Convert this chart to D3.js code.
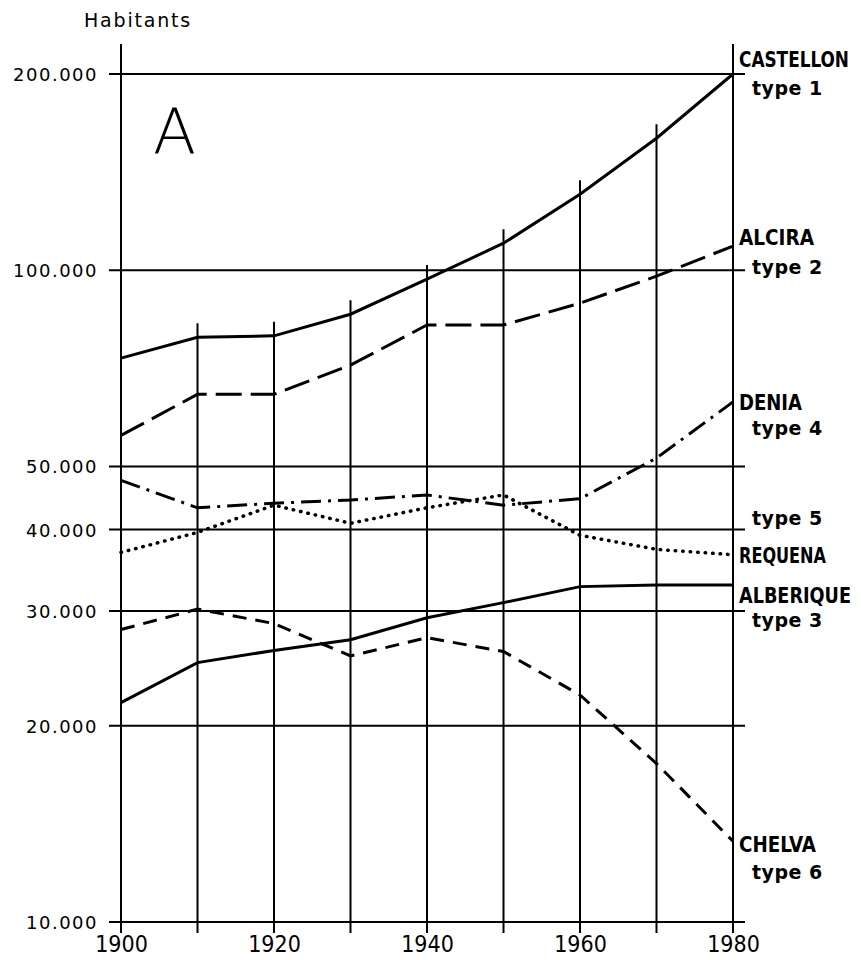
<!DOCTYPE html>
<html>
<head>
<meta charset="utf-8">
<script src="https://cdn.jsdelivr.net/npm/d3@7"></script>
<style>
  body { margin: 0; background: #fff; }
  svg { display: block; }
  .grid line { stroke: #000; stroke-width: 2; }
  .name { font-family: "DejaVu Sans", sans-serif; font-stretch: condensed; font-weight: bold; font-size: 21px; }
  .type { font-family: "DejaVu Sans", sans-serif; font-weight: bold; font-size: 19px; letter-spacing: 0.5px; }
</style>
</head>
<body>
<svg class="chart"></svg>
<script>
// census years and population per town (inhabitants)
var years = [1900, 1910, 1920, 1930, 1940, 1950, 1960, 1970, 1980];

var castellon = [73300, 78900, 79300, 85600, 96900, 110000, 130800, 159400, 200000];
var alcira    = [55800, 64500, 64500, 71500, 82400, 82400, 89000, 97900, 108900];
var denia     = [47600, 43200, 43900, 44400, 45200, 43600, 44600, 51500, 62800];
var requena   = [36900, 39600, 43600, 40900, 43200, 45200, 39200, 37300, 36600];
var alberique = [21700, 25000, 26100, 27100, 29300, 30900, 32700, 32900, 32900];
var chelva    = [28100, 30200, 28700, 25600, 27300, 26000, 22300, 17500, 13300];

var yTicks = [10000, 20000, 30000, 40000, 50000, 100000, 200000];
var xTicks = [1900, 1920, 1940, 1960, 1980];

var names = ["CASTELLON", "ALCIRA", "DENIA", "REQUENA", "ALBERIQUE", "CHELVA"];
var types = ["type 1", "type 2", "type 4", "type 5", "type 3", "type 6"];

var width = 861, height = 960;

var svg = d3.select(".chart")
    .attr("width", width)
    .attr("height", height);

var x = d3.scaleLinear()
    .domain([1900, 1980])
    .range([121, 733]);

var y = d3.scaleLog()
    .domain([10000, 200000])
    .range([922, 74]);

var fmt = d3.formatLocale({decimal: ",", thousands: ".", grouping: [3], currency: ["", ""]}).format(",");

// horizontal rules
var grid = svg.append("g").attr("class", "grid");
grid.selectAll(".h")
    .data(yTicks)
    .enter().append("line")
    .attr("class", "h")
    .attr("x1", x(1900) - 12)
    .attr("x2", x(1980) + 12)
    .attr("y1", function(d) { return y(d); })
    .attr("y2", function(d) { return y(d); });

// vertical rules, each stops a little above the top curve
grid.selectAll(".v")
    .data(years)
    .enter().append("line")
    .attr("class", "v")
    .attr("x1", function(d) { return x(d); })
    .attr("x2", function(d) { return x(d); })
    .attr("y1", function(d, i) {
      if (i === 0 || i === years.length - 1) return y(200000) - 30;
      return y(castellon[i]) - 14;
    })
    .attr("y2", y(10000) + 11);

// tick labels through d3 axes
var yAxis = svg.append("g")
    .attr("transform", "translate(" + (x(1900) - 23) + ",0)")
    .call(d3.axisLeft(y).tickValues(yTicks).tickFormat(fmt).tickSize(0).tickPadding(0))
    .attr("font-size", 18)
    .attr("font-family", "DejaVu Sans");
yAxis.select(".domain").remove();
yAxis.selectAll("text")
    .attr("fill", "#000")
    .attr("dy", "0.36em")
    .style("letter-spacing", "1.5px");

var xAxis = svg.append("g")
    .attr("transform", "translate(0," + (y(10000) + 13) + ")")
    .call(d3.axisBottom(x).tickValues(xTicks).tickFormat(d3.format("d")).tickSize(0).tickPadding(0))
    .attr("font-size", 23)
    .attr("font-family", "DejaVu Sans Condensed, DejaVu Sans");
xAxis.select(".domain").remove();
xAxis.selectAll("text")
    .attr("fill", "#000")
    .attr("dy", "0.75em");

// series
var series = [castellon, alcira, denia, requena, alberique, chelva];
var dashes = [null, "26,9", "20,7,3,7", "0.5,7", null, "14,9"];

var line = d3.line()
    .x(function(d, i) { return x(years[i]); })
    .y(function(d) { return y(d); });

svg.selectAll(".serie")
    .data(series)
    .enter().append("path")
    .attr("class", "serie")
    .attr("d", line)
    .attr("fill", "none")
    .attr("stroke", "#000")
    .attr("stroke-width", function(d, i) { return i === 3 ? 3.5 : 3; })
    .attr("stroke-linecap", function(d, i) { return i === 3 ? "round" : "butt"; })
    .attr("stroke-dasharray", function(d, i) { return dashes[i]; });

// labels at the right end of each curve
var nameOffset = [-7, -1, 8, 8, 18, 11];
var typeOffset = [21, 28, 33, -30, 42, 38];
var nameWidth = [110, 75, 63, 87, 112, 77];

svg.selectAll(".name")
    .data(series)
    .enter().append("text")
    .attr("class", "name")
    .attr("x", 739)
    .attr("y", function(d, i) { return y(d[d.length - 1]) + nameOffset[i]; })
    .attr("textLength", function(d, i) { return nameWidth[i]; })
    .attr("lengthAdjust", "spacingAndGlyphs")
    .text(function(d, i) { return names[i]; });

svg.selectAll(".type")
    .data(series)
    .enter().append("text")
    .attr("class", "type")
    .attr("x", 752)
    .attr("y", function(d, i) { return y(d[d.length - 1]) + typeOffset[i]; })
    .text(function(d, i) { return types[i]; });

// title bits
svg.append("text")
    .attr("x", 84)
    .attr("y", 27)
    .style("font-family", "'DejaVu Sans', sans-serif")
    .style("font-size", "19px")
    .style("letter-spacing", "1.8px")
    .text("Habitants");

svg.append("text")
    .attr("x", 153)
    .attr("y", 153)
    .style("font-family", "'DejaVu Sans', sans-serif")
    .style("font-weight", "200")
    .style("font-size", "63px")
    .text("A");
</script>
</body>
</html>
